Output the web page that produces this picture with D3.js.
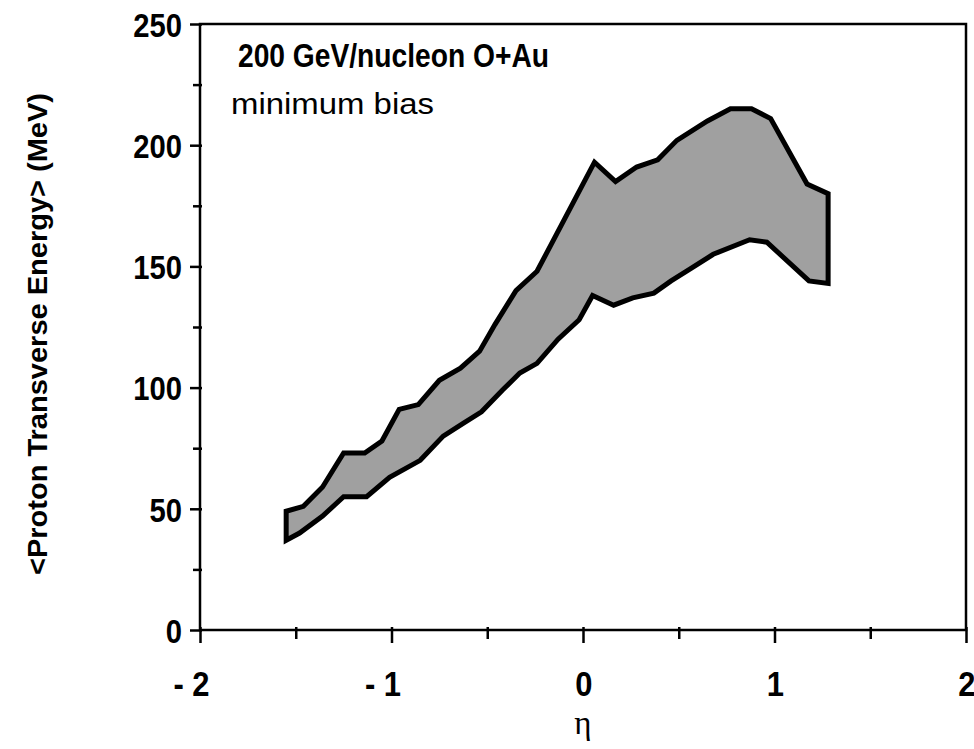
<!DOCTYPE html>
<html>
<head>
<meta charset="utf-8">
<script src="https://cdn.jsdelivr.net/npm/d3@7"></script>
<style>
  body { margin: 0; background: #fff; }
  svg { display: block; }
</style>
</head>
<body>
<svg id="chart" width="974" height="749"></svg>
<script>
// upper edge of the band (eta, MeV)
const upperEta = [-1.55, -1.46, -1.36, -1.25, -1.14, -1.05, -0.96, -0.86, -0.75, -0.64, -0.54, -0.46, -0.35, -0.24, -0.12, 0.06, 0.17, 0.28, 0.39, 0.49, 0.65, 0.77, 0.88, 0.98, 1.17, 1.28];
const upperE   = [49, 51, 59, 73, 73, 78, 91, 93, 103, 108, 115, 126, 140, 148, 166, 193, 185, 191, 194, 202, 210, 215, 215, 211, 184, 180];

// lower edge of the band
const lowerEta = [-1.55, -1.48, -1.36, -1.25, -1.13, -1.01, -0.85, -0.73, -0.63, -0.53, -0.42, -0.33, -0.24, -0.13, -0.02, 0.05, 0.16, 0.26, 0.37, 0.46, 0.56, 0.68, 0.87, 0.96, 1.18, 1.28];
const lowerE   = [37, 40, 47, 55, 55, 63, 70, 80, 85, 90, 99, 106, 110, 120, 128, 138, 134, 137, 139, 144, 149, 155, 161, 160, 144, 143];

const xTicks = [-2, -1, 0, 1, 2];
const xTickLabels = ["- 2", "- 1", "0", "1", "2"];
const yTicks = [0, 50, 100, 150, 200, 250];

const svg = d3.select("#chart");
const mLeft = 200, mRight = 966, mTop = 24, mBottom = 630;

const x = d3.scaleLinear().domain([-2, 2]).range([mLeft, mRight]);
const y = d3.scaleLinear().domain([0, 250]).range([mBottom, mTop]);

// band polygon: upper edge left->right, then lower edge right->left
const upper = upperEta.map((e, i) => [e, upperE[i]]);
const lower = lowerEta.map((e, i) => [e, lowerE[i]]).reverse();
const band = d3.line().x(d => x(d[0])).y(d => y(d[1]));

svg.append("path")
  .attr("d", band(upper.concat(lower)) + "Z")
  .attr("fill", "#a0a0a0")
  .attr("stroke", "#000")
  .attr("stroke-width", 5)
  .attr("stroke-linejoin", "miter");

// frame
svg.append("rect")
  .attr("x", mLeft).attr("y", mTop)
  .attr("width", mRight - mLeft).attr("height", mBottom - mTop)
  .attr("fill", "none").attr("stroke", "#000").attr("stroke-width", 2.5);

const tickFont = "'Liberation Sans', Arial, sans-serif";
const squeeze = 0.86; // the original labels are set in a condensed face

// x axis: minor ticks then major ticks with labels
const xAxis = d3.axisBottom(x).tickValues(d3.range(-2, 2.01, 0.5))
  .tickSize(0).tickFormat("");
const gx = svg.append("g").attr("transform", `translate(0,${mBottom})`).call(xAxis);
gx.select(".domain").remove();
gx.selectAll(".tick").append("line")
  .attr("y1", -3)
  .attr("y2", d => Number.isInteger(d) ? 13 : 9)
  .attr("stroke", "#000").attr("stroke-width", 2.5);
// digits sit centred on the tick, the minus sign hangs to the left
gx.selectAll(".tick").filter(d => Number.isInteger(d)).append("text")
  .attr("transform", `translate(9,66) scale(${squeeze},1)`)
  .attr("text-anchor", "end")
  .attr("fill", "#000")
  .style("font", `bold 36px ${tickFont}`)
  .text(d => xTickLabels[xTicks.indexOf(d)]);

// y axis
const yAxis = d3.axisLeft(y).tickValues(d3.range(0, 251, 25))
  .tickSize(0).tickFormat("");
const gy = svg.append("g").attr("transform", `translate(${mLeft},0)`).call(yAxis);
gy.select(".domain").remove();
gy.selectAll(".tick").append("line")
  .attr("x1", 2)
  .attr("x2", d => yTicks.includes(d) ? -10 : -7)
  .attr("stroke", "#000").attr("stroke-width", 2.5);
gy.selectAll(".tick").filter(d => yTicks.includes(d)).append("text")
  .attr("transform", `translate(-18,0) scale(${squeeze},1)`)
  .attr("dy", "0.36em")
  .attr("text-anchor", "end")
  .attr("fill", "#000")
  .style("font", `bold 34px ${tickFont}`)
  .text(d => d);

// titles
svg.append("text")
  .attr("x", 238).attr("y", 67)
  .attr("textLength", 311).attr("lengthAdjust", "spacingAndGlyphs")
  .style("font", "bold 33px 'Liberation Sans', Arial, sans-serif")
  .text("200 GeV/nucleon O+Au");

svg.append("text")
  .attr("x", 231).attr("y", 114)
  .attr("textLength", 203).attr("lengthAdjust", "spacingAndGlyphs")
  .style("font", "29px 'Liberation Sans', Arial, sans-serif")
  .text("minimum bias");

svg.append("text")
  .attr("x", 583).attr("y", 734)
  .attr("text-anchor", "middle")
  .style("font", "33px 'Liberation Serif', 'DejaVu Serif', serif")
  .text("η");

svg.append("text")
  .attr("transform", "translate(47,334) rotate(-90)")
  .attr("text-anchor", "middle")
  .attr("textLength", 482).attr("lengthAdjust", "spacingAndGlyphs")
  .style("font", "bold 28px 'Liberation Sans', Arial, sans-serif")
  .text("<Proton Transverse Energy> (MeV)");
</script>
</body>
</html>
